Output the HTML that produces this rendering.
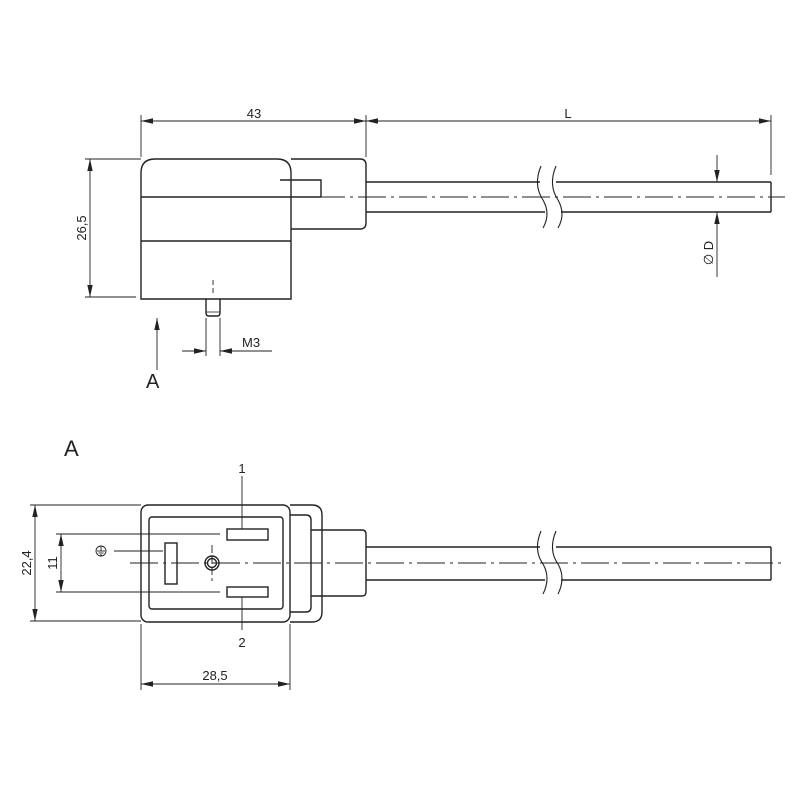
<!DOCTYPE html>
<html><head><meta charset="utf-8"><style>
html,body{margin:0;padding:0;background:#fff}
svg{display:block}
text{font-family:"Liberation Sans",Arial,sans-serif;fill:#222}
</style></head><body>
<svg width="800" height="800" viewBox="0 0 800 800" xmlns="http://www.w3.org/2000/svg">
<defs>
<marker id="ar" viewBox="0 0 12 6" refX="12" refY="3" markerWidth="12" markerHeight="6" markerUnits="userSpaceOnUse" orient="auto-start-reverse" preserveAspectRatio="none"><path d="M0,0.3 L12,3 L0,5.7 z" fill="#222"/></marker>
</defs>
<g stroke="#222" fill="none" stroke-width="1.4">
<path d="M141,299 V173 Q141,159 155,159 H277 Q291,159 291,173 V299 Z"/>
<path d="M291,159 H360 Q366,159 366,165 V223 Q366,229 360,229 H291"/>
<line x1="141" y1="197" x2="321" y2="197"/>
<path d="M280,180 H321 V197"/>
<line x1="141" y1="241" x2="291" y2="241"/>
<path d="M206,299 V313 Q206,316 209,316 H217 Q220,316 220,313 V299"/>
<line x1="206" y1="312" x2="220" y2="312" stroke-width="0.8"/>
<line x1="366" y1="182" x2="540" y2="182"/>
<line x1="366" y1="212" x2="545" y2="212"/>
<line x1="556" y1="182" x2="771" y2="182"/>
<line x1="561" y1="212" x2="771" y2="212"/>
<line x1="771" y1="182" x2="771" y2="212"/>
<path d="M541,166 Q533,185 543,200 Q551,214 543,228" stroke-width="1.1"/>
<path d="M556,166 Q548,185 558,200 Q566,214 558,228" stroke-width="1.1"/>
</g>
<g stroke="#222" fill="none" stroke-width="0.9">
<line x1="276" y1="197" x2="785" y2="197" stroke-dasharray="28,5,3,5"/>
<line x1="213" y1="280" x2="213" y2="296" stroke-dasharray="5,3"/>
<line x1="141" y1="115" x2="141" y2="157"/>
<line x1="366" y1="115" x2="366" y2="157"/>
<line x1="771" y1="115" x2="771" y2="175"/>
<line x1="141" y1="121" x2="366" y2="121" marker-start="url(#ar)" marker-end="url(#ar)"/>
<line x1="366" y1="121" x2="771" y2="121" marker-start="url(#ar)" marker-end="url(#ar)"/>
<line x1="85" y1="159" x2="141" y2="159"/>
<line x1="85" y1="297" x2="136" y2="297"/>
<line x1="90" y1="159" x2="90" y2="297" marker-start="url(#ar)" marker-end="url(#ar)"/>
<line x1="717" y1="155" x2="717" y2="182" marker-end="url(#ar)"/>
<line x1="717" y1="277" x2="717" y2="212" marker-end="url(#ar)"/>
<line x1="206" y1="318" x2="206" y2="356"/>
<line x1="220" y1="318" x2="220" y2="356"/>
<line x1="182" y1="351" x2="206" y2="351" marker-end="url(#ar)"/>
<line x1="272" y1="351" x2="220" y2="351" marker-end="url(#ar)"/>
<line x1="157" y1="370" x2="157" y2="318" marker-end="url(#ar)"/>
</g>
<text x="254" y="118" font-size="13" text-anchor="middle">43</text>
<text x="568" y="118" font-size="13" text-anchor="middle">L</text>
<text transform="translate(86,228) rotate(-90)" font-size="13" text-anchor="middle">26,5</text>
<text transform="translate(713,253) rotate(-90)" font-size="13" text-anchor="middle">∅ D</text>
<text x="242" y="347" font-size="13">M3</text>
<text x="146" y="388" font-size="20">A</text>
<text x="64" y="456" font-size="22">A</text>

<g stroke="#222" fill="none" stroke-width="1.4">
<rect x="141" y="505" width="149" height="117" rx="7"/>
<rect x="149" y="517" width="134" height="92" rx="3"/>
<path d="M290,505 H312 Q322,505 322,515 V612 Q322,622 312,622 H290"/>
<path d="M290,515 H306 Q311,515 311,520 V607 Q311,612 306,612 H290"/>
<path d="M311,530 H362 Q366,530 366,534 V592 Q366,596 362,596 H311"/>
<line x1="366" y1="547" x2="540" y2="547"/>
<line x1="366" y1="580" x2="545" y2="580"/>
<line x1="556" y1="547" x2="771" y2="547"/>
<line x1="561" y1="580" x2="771" y2="580"/>
<line x1="771" y1="547" x2="771" y2="580"/>
<path d="M541,531 Q533,550 543,564 Q551,578 543,594" stroke-width="1.1"/>
<path d="M556,531 Q548,550 558,564 Q566,578 558,594" stroke-width="1.1"/>
<rect x="227" y="529" width="41" height="11"/>
<rect x="227" y="587" width="41" height="10"/>
<rect x="165" y="543" width="12" height="41"/>
<circle cx="212" cy="563" r="7"/>
<circle cx="212" cy="563" r="4.5"/>
</g>
<g stroke="#222" fill="none" stroke-width="0.9">
<line x1="130" y1="563" x2="785" y2="563" stroke-dasharray="28,5,3,5"/>
<line x1="212" y1="545" x2="212" y2="581" stroke-dasharray="8,3"/>
<circle cx="101" cy="551" r="5"/>
<line x1="101" y1="546" x2="101" y2="551"/>
<line x1="97" y1="551" x2="105" y2="551"/>
<line x1="98.5" y1="553" x2="103.5" y2="553"/>
<line x1="100" y1="555" x2="102" y2="555"/>
<line x1="114" y1="551" x2="163" y2="551"/>
<line x1="242" y1="476" x2="242" y2="529"/>
<line x1="242" y1="597" x2="242" y2="630"/>
<line x1="56" y1="534" x2="220" y2="534"/>
<line x1="56" y1="592" x2="220" y2="592"/>
<line x1="61" y1="534" x2="61" y2="592" marker-start="url(#ar)" marker-end="url(#ar)"/>
<line x1="30" y1="505" x2="141" y2="505"/>
<line x1="30" y1="621" x2="141" y2="621"/>
<line x1="35" y1="505" x2="35" y2="621" marker-start="url(#ar)" marker-end="url(#ar)"/>
<line x1="141" y1="624" x2="141" y2="690"/>
<line x1="290" y1="624" x2="290" y2="690"/>
<line x1="141" y1="684" x2="290" y2="684" marker-start="url(#ar)" marker-end="url(#ar)"/>
</g>
<text x="242" y="473" font-size="13" text-anchor="middle">1</text>
<text x="242" y="647" font-size="13" text-anchor="middle">2</text>
<text x="215" y="680" font-size="13" text-anchor="middle">28,5</text>
<text transform="translate(57,563) rotate(-90)" font-size="13" text-anchor="middle">11</text>
<text transform="translate(31,563) rotate(-90)" font-size="13" text-anchor="middle">22,4</text>
</svg>
</body></html>
